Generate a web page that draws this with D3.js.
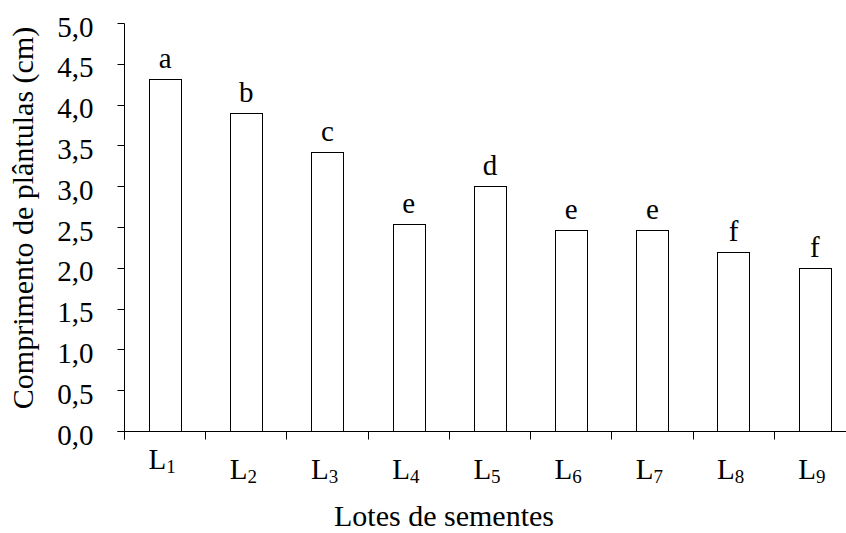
<!DOCTYPE html>
<html><head><meta charset="utf-8">
<script src="https://cdn.jsdelivr.net/npm/d3@7/dist/d3.min.js"></script></head>
<body style="margin:0">
<svg id="chart" width="846" height="533"></svg>
<script>
// ---- data ----
const categories = ["L1", "L2", "L3", "L4", "L5", "L6", "L7", "L8", "L9"];
const labelMain = ["L", "L", "L", "L", "L", "L", "L", "L", "L"];
const labelSub = ["1", "2", "3", "4", "5", "6", "7", "8", "9"];
const values = [4.32, 3.90, 3.42, 2.54, 3.01, 2.47, 2.47, 2.20, 2.00];
const letters = ["a", "b", "c", "e", "d", "e", "e", "f", "f"];
const yTicks = [0, 0.5, 1, 1.5, 2, 2.5, 3, 3.5, 4, 4.5, 5];
const xTitle = "Lotes de sementes";
const yTitle = "Comprimento de pl\u00e2ntulas (cm)";

const FONT = "'Liberation Serif', serif";

// ---- layout ----
const svg = d3.select("#chart");
const x0 = 124.5, x1 = 855.5, yBase = 431.5, yTop = 23.5;

const x = d3.scaleBand().domain(categories).range([x0, x1])
  .paddingInner(0.6).paddingOuter(0.3);
const y = d3.scaleLinear().domain([0, 5]).range([yBase, yTop]);
const step = x.step();

// bars
svg.append("g").selectAll("rect").data(values).join("rect")
  .attr("x", (d, i) => Math.round(x(categories[i])) + 0.5)
  .attr("y", d => Math.round(y(d)) + 0.5)
  .attr("width", Math.round(x.bandwidth()))
  .attr("height", d => Math.round(yBase - 0.5) - Math.round(y(d)))
  .attr("fill", "#fff").attr("stroke", "#000").attr("stroke-width", 1);

// significance letters
svg.append("g").selectAll("text").data(values).join("text")
  .attr("x", (d, i) => x(categories[i]) + x.bandwidth() / 2)
  .attr("y", d => y(d) - 11)
  .attr("text-anchor", "middle")
  .style("font-family", FONT)
  .style("font-size", "29px")
  .text((d, i) => letters[i]);

// y axis
const gy = svg.append("g");
gy.append("line").attr("x1", x0).attr("x2", x0).attr("y1", yTop).attr("y2", yBase + 8)
  .attr("stroke", "#000");
gy.selectAll("line.tk").data(yTicks).join("line").attr("class", "tk")
  .attr("x1", x0 - 7).attr("x2", x0)
  .attr("y1", d => Math.round(y(d) - 0.5) + 0.5).attr("y2", d => Math.round(y(d) - 0.5) + 0.5)
  .attr("stroke", "#000");
gy.selectAll("text").data(yTicks).join("text")
  .attr("x", x0 - 31).attr("y", d => y(d) + 13)
  .attr("text-anchor", "end")
  .style("font-family", FONT).style("font-size", "29px")
  .text(d => d3.format(".1f")(d).replace(".", ","));

// x axis (ticks at category boundaries)
const boundaries = categories.map(c => x(c) - (step - x.bandwidth()) / 2).concat([x1]);
const gx = svg.append("g");
gx.append("line").attr("x1", x0 - 7).attr("x2", 846).attr("y1", yBase).attr("y2", yBase)
  .attr("stroke", "#000");
gx.selectAll("line.tk").data(boundaries).join("line").attr("class", "tk")
  .attr("x1", d => Math.round(d - 0.5) + 0.5).attr("x2", d => Math.round(d - 0.5) + 0.5)
  .attr("y1", yBase).attr("y2", yBase + 8).attr("stroke", "#000");

// x category labels with subscripts
const lab = gx.selectAll("text.cat").data(categories).join("text").attr("class", "cat")
  .attr("x", c => x(c) + x.bandwidth() / 2 - 3)
  .attr("y", (c, i) => i === 0 ? 469 : 479)
  .attr("text-anchor", "middle")
  .style("font-family", FONT).style("font-size", "29px");
lab.append("tspan").text((c, i) => labelMain[i]);
lab.append("tspan").style("font-size", "19px").attr("dy", 4).text((c, i) => labelSub[i]);

// titles
svg.append("text").attr("x", 444).attr("y", 526).attr("text-anchor", "middle")
  .style("font-family", FONT).style("font-size", "30px").text(xTitle);
svg.append("text").attr("transform", "translate(33,218) rotate(-90)")
  .attr("text-anchor", "middle")
  .style("font-family", FONT).style("font-size", "30px").text(yTitle);
</script>
</body>
</html>
